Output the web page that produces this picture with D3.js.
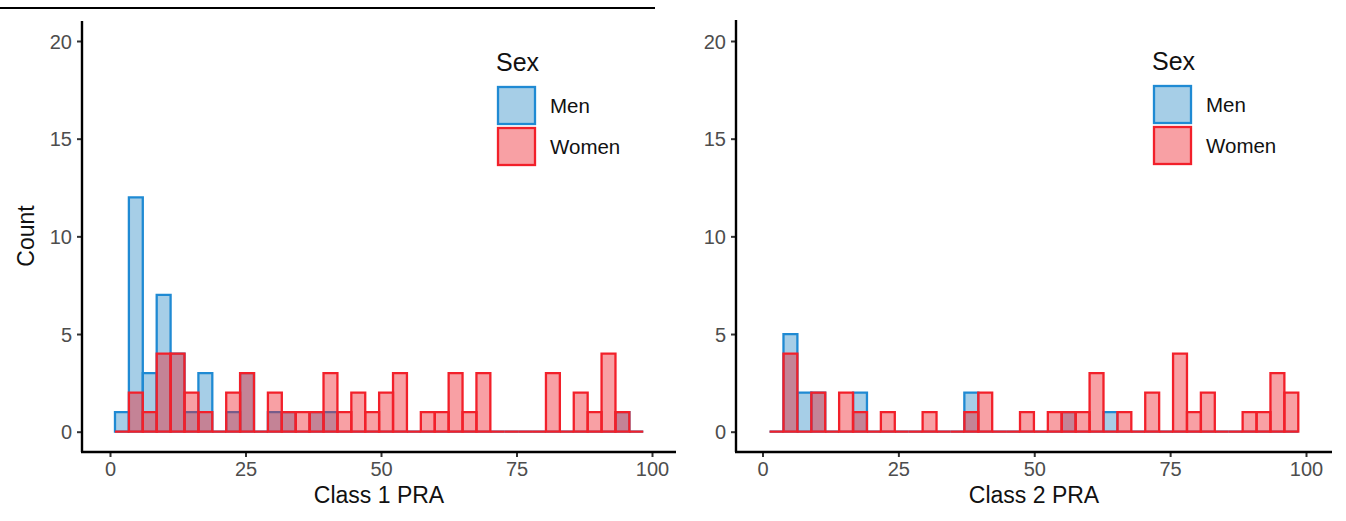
<!DOCTYPE html>
<html>
<head>
<meta charset="utf-8">
<script src="https://cdn.jsdelivr.net/npm/d3@7"></script>
<style>
  body { margin: 0; background: #fff; }
  svg { display: block; font-family: "Liberation Sans", Arial, sans-serif; }
  .tick text { fill: #4d4d4d; font-size: 20px; }
  .tick line { stroke: #333; stroke-width: 2px; }
</style>
</head>
<body>
<svg id="chart"></svg>
<script>
// histogram counts per bin (38 bins each panel)
var class1Men   = [1,12,3,7,4,1,3,0,1,3,0,1,1,0,1,1,0,0,0,0,0,0,0,0,0,0,0,0,0,0,0,0,0,0,0,0,1,0];
var class1Women = [0,2,1,4,4,2,1,0,2,3,0,2,1,1,1,3,1,2,1,2,3,0,1,1,3,1,3,0,0,0,0,3,0,2,1,4,1,0];
var class2Men   = [0,5,2,2,0,0,2,0,0,0,0,0,0,0,2,0,0,0,0,0,0,1,0,0,1,0,0,0,0,0,0,0,0,0,0,0,0,0];
var class2Women = [0,4,0,2,0,2,1,0,1,0,0,1,0,0,1,2,0,0,1,0,1,1,1,3,0,1,0,2,0,4,1,2,0,0,1,1,3,2];

// bin edges (PRA units): first edge and width
var class1Bins = { start: 0.92, width: 2.565 };
var class2Bins = { start: 1.3, width: 2.56 };

var xTicks = [0, 25, 50, 75, 100];
var yTicks = [0, 5, 10, 15, 20];
var sexLevels = ["Men", "Women"];

var w = 1346, h = 521;
var svg = d3.select("#chart").attr("width", w).attr("height", h);

var fillColor = { Men: "#2b8ac6", Women: "#ee1c27" };
var lineColor = { Men: "#1f8ad3", Women: "#f2202a" };

// thin rule at the top of the left panel
svg.append("line")
    .attr("x1", 0).attr("x2", 655)
    .attr("y1", 8).attr("y2", 8)
    .attr("stroke", "#000").attr("stroke-width", 2);

function drawPanel(opt) {
    var x = d3.scaleLinear().domain([0, 100]).range(opt.xRange);
    var y = d3.scaleLinear().domain([0, 20]).range([431.7, 41]);
    var g = svg.append("g");

    var series = [
        { sex: "Men", counts: opt.men },
        { sex: "Women", counts: opt.women }
    ];

    // bars as closed paths so that empty bins still draw their bottom edge
    series.forEach(function(s) {
        g.append("g").selectAll("path")
            .data(s.counts)
            .enter().append("path")
            .attr("d", function(d, i) {
                var x0 = x(opt.bins.start + i * opt.bins.width),
                    x1 = x(opt.bins.start + (i + 1) * opt.bins.width);
                return "M" + x0 + "," + y(0) + "V" + y(d) + "H" + x1 + "V" + y(0) + "Z";
            })
            .attr("fill", fillColor[s.sex])
            .attr("fill-opacity", 0.42)
            .attr("stroke", lineColor[s.sex])
            .attr("stroke-width", 2.3);
    });

    // axes
    var xAxis = g.append("g")
        .attr("transform", "translate(0," + opt.axisBottom + ")")
        .call(d3.axisBottom(x).tickValues(xTicks).tickSize(5).tickPadding(5).tickSizeOuter(0));
    xAxis.select(".domain").remove();

    var yAxis = g.append("g")
        .attr("transform", "translate(" + opt.axisLeft + ",0)")
        .call(d3.axisLeft(y).tickValues(yTicks).tickSize(5).tickPadding(5).tickSizeOuter(0));
    yAxis.select(".domain").remove();
    yAxis.selectAll(".tick text").attr("dy", "0.36em");

    g.append("line")
        .attr("x1", opt.axisLeft - 1).attr("x2", opt.axisRight)
        .attr("y1", opt.axisBottom).attr("y2", opt.axisBottom)
        .attr("stroke", "#000").attr("stroke-width", 2.4);
    g.append("line")
        .attr("x1", opt.axisLeft).attr("x2", opt.axisLeft)
        .attr("y1", opt.axisTop).attr("y2", opt.axisBottom)
        .attr("stroke", "#000").attr("stroke-width", 2.4);

    g.append("text")
        .attr("x", (opt.axisLeft + opt.axisRight) / 2)
        .attr("y", 503)
        .attr("text-anchor", "middle")
        .style("font-size", "23px")
        .attr("fill", "#111")
        .text(opt.title);

    // legend
    var lg = g.append("g").attr("transform", "translate(" + opt.legend[0] + "," + opt.legend[1] + ")");
    lg.append("text")
        .attr("x", 0).attr("y", 9)
        .style("font-size", "25px")
        .attr("fill", "#111")
        .text("Sex");
    sexLevels.forEach(function(s, i) {
        lg.append("rect")
            .attr("x", 2).attr("y", 25 + i * 41)
            .attr("width", 37).attr("height", 37)
            .attr("fill", fillColor[s])
            .attr("fill-opacity", 0.42)
            .attr("stroke", lineColor[s])
            .attr("stroke-width", 2.3);
        lg.append("text")
            .attr("x", 54).attr("y", 44 + i * 41)
            .attr("dy", "0.35em")
            .style("font-size", "20.5px")
            .attr("fill", "#111")
            .text(s);
    });
}

drawPanel({
    men: class1Men, women: class1Women, bins: class1Bins,
    xRange: [110, 652], axisLeft: 82, axisRight: 676, axisTop: 21, axisBottom: 452,
    title: "Class 1 PRA", legend: [496, 62]
});

drawPanel({
    men: class2Men, women: class2Women, bins: class2Bins,
    xRange: [762.5, 1306], axisLeft: 736, axisRight: 1332, axisTop: 20, axisBottom: 452,
    title: "Class 2 PRA", legend: [1152, 61]
});

svg.append("text")
    .attr("transform", "translate(34,236) rotate(-90)")
    .attr("text-anchor", "middle")
    .style("font-size", "23px")
    .attr("fill", "#111")
    .text("Count");
</script>
</body>
</html>
